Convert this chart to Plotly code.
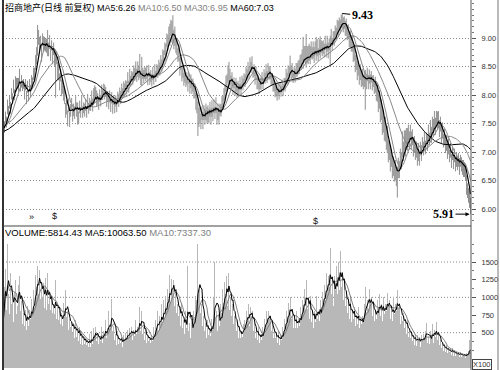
import numpy as np
import pandas as pd
import plotly.graph_objects as go

TITLE_NAME = "招商地产(日线 前复权)"
MA_LABELS = [("MA5", "6.26", "#000000"), ("MA10", "6.50", "#808080"),
             ("MA30", "6.95", "#808080"), ("MA60", "7.03", "#000000")]
VOL_LABELS = [("VOLUME", "5814.43", "#000000"), ("MA5", "10063.50", "#000000"),
              ("MA10", "7337.30", "#808080")]
price_ticks = [6.0, 6.5, 7.0, 7.5, 8.0, 8.5, 9.0]
vol_ticks = [500, 750, 1000, 1250, 1500]
vol_grid = [500, 1000, 1500]
markers = [(28, "»", 217), (51, "$", 216), (311, "$", 221)]

# closes before the first visible day (only used to warm up the moving averages)
pre_close = [7.10, 7.05, 7.12, 7.18, 7.08, 7.02, 7.10, 7.15, 7.22, 7.18,
             7.25, 7.20, 7.14, 7.22, 7.28, 7.30, 7.24, 7.18, 7.26, 7.32,
             7.28, 7.22, 7.30, 7.36, 7.30, 7.26, 7.34, 7.40, 7.36, 7.30,
             7.38, 7.44, 7.40, 7.48, 7.52, 7.46, 7.42, 7.50, 7.56, 7.50,
             7.46, 7.54, 7.58, 7.52, 7.48, 7.55, 7.60, 7.54, 7.50, 7.46,
             7.52, 7.48, 7.44, 7.50, 7.46, 7.42, 7.48, 7.44, 7.40, 7.42]

# daily close, in cents
close_c = [748, 742, 765, 752, 778, 772, 784, 780, 801, 796,
           815, 800, 824, 816, 822, 818, 836, 815, 824, 817,
           820, 804, 818, 798, 812, 800, 818, 806, 826, 820,
           838, 834, 858, 866, 885, 898, 890, 894, 874, 896,
           888, 892, 886, 890, 880, 878, 895, 872, 888, 868,
           882, 866, 860, 868, 846, 844, 824, 838, 816, 818,
           804, 800, 778, 780, 764, 782, 760, 776, 784, 768,
           775, 772, 786, 778, 776, 764, 780, 770, 788, 772,
           778, 774, 786, 770, 790, 776, 784, 782, 798, 780,
           800, 796, 804, 788, 794, 784, 802, 790, 806, 800,
           810, 804, 806, 790, 798, 789, 796, 782, 795, 778,
           792, 780, 790, 784, 798, 790, 804, 796, 810, 804,
           815, 809, 818, 812, 830, 816, 832, 824, 834, 828,
           842, 835, 850, 832, 848, 836, 842, 826, 830, 838,
           832, 840, 834, 842, 826, 844, 828, 834, 824, 838,
           828, 842, 832, 846, 840, 852, 848, 856, 852, 868,
           864, 880, 874, 896, 888, 906, 900, 916, 908, 905,
           896, 900, 886, 888, 872, 876, 854, 858, 840, 842,
           830, 834, 824, 832, 818, 830, 814, 826, 812, 818,
           808, 810, 792, 788, 778, 766, 768, 756, 770, 758,
           772, 762, 776, 768, 774, 766, 776, 768, 780, 770,
           782, 770, 784, 768, 774, 762, 776, 772, 788, 784,
           800, 802, 820, 818, 832, 826, 830, 820, 828, 814,
           822, 810, 820, 806, 814, 808, 820, 810, 826, 818,
           828, 824, 840, 834, 848, 838, 852, 848, 856, 840,
           844, 832, 838, 822, 824, 812, 822, 818, 830, 820,
           834, 830, 842, 832, 846, 838, 842, 828, 830, 816,
           818, 806, 812, 800, 810, 802, 812, 808, 816, 810,
           820, 818, 832, 828, 842, 838, 850, 842, 844, 832,
           838, 834, 846, 842, 848, 846, 858, 854, 866, 860,
           870, 866, 862, 868, 864, 876, 866, 878, 872, 876,
           870, 882, 872, 884, 870, 882, 878, 884, 880, 886,
           878, 890, 880, 892, 876, 888, 892, 902, 890, 900,
           898, 910, 908, 920, 916, 926, 920, 927, 930, 924,
           928, 918, 920, 908, 912, 900, 902, 890, 892, 876,
           876, 860, 862, 848, 850, 836, 840, 830, 834, 824,
           830, 830, 824, 836, 826, 834, 822, 832, 822, 826,
           816, 820, 808, 808, 792, 794, 776, 776, 756, 756,
           740, 742, 726, 724, 704, 706, 690, 692, 676, 678,
           666, 672, 660, 662, 674, 670, 688, 684, 706, 698,
           714, 706, 720, 714, 730, 720, 734, 718, 728, 710,
           716, 700, 708, 692, 702, 690, 706, 698, 716, 706,
           722, 708, 724, 716, 732, 722, 738, 730, 746, 738,
           754, 744, 758, 752, 756, 742, 750, 734, 740, 722,
           728, 712, 720, 704, 710, 694, 704, 688, 698, 684,
           694, 680, 690, 680, 688, 676, 686, 680, 676, 674,
           672, 668, 645, 635, 625, 620, 605]

# upper shadow above close, in cents
up_c = [8, 12, 6, 10, 14, 9, 15, 8, 11, 7,
        12, 10, 9, 14, 8, 12, 10, 7, 11, 9,
        8, 12, 10, 9, 13, 7, 10, 12, 9, 11,
        10, 14, 12, 18, 38, 16, 12, 10, 14, 12,
        15, 10, 12, 9, 34, 14, 10, 12, 8, 14,
        10, 12, 20, 9, 12, 10, 14, 8, 11, 9,
        12, 10, 8, 11, 9, 12, 10, 8, 11, 9,
        10, 8, 12, 9, 11, 7, 10, 9, 12, 8,
        9, 11, 8, 10, 12, 9, 11, 8, 10, 14,
        12, 21, 10, 20, 9, 11, 8, 10, 12, 9,
        10, 14, 8, 11, 9, 10, 12, 8, 10, 9,
        8, 11, 9, 10, 8, 12, 9, 11, 10, 8,
        9, 11, 8, 12, 10, 9, 14, 10, 8, 12,
        10, 12, 9, 14, 11, 16, 30, 12, 37, 10,
        12, 9, 14, 10, 11, 9, 12, 10, 8, 11,
        9, 12, 10, 8, 12, 10, 9, 14, 10, 12,
        14, 12, 16, 12, 18, 14, 25, 16, 22, 35,
        18, 20, 14, 12, 10, 14, 12, 9, 11, 10,
        9, 12, 10, 8, 11, 9, 12, 10, 8, 11,
        9, 10, 12, 14, 10, 12, 9, 11, 10, 12,
        10, 12, 9, 11, 8, 10, 12, 9, 11, 8,
        10, 9, 12, 8, 11, 10, 9, 12, 10, 14,
        12, 16, 14, 18, 20, 32, 16, 14, 12, 10,
        9, 12, 10, 8, 11, 9, 12, 10, 8, 11,
        10, 12, 9, 11, 10, 12, 14, 10, 12, 9,
        10, 8, 12, 9, 11, 10, 9, 12, 10, 8,
        11, 9, 12, 10, 10, 12, 9, 11, 8, 10,
        9, 11, 8, 10, 12, 9, 10, 8, 11, 9,
        10, 12, 14, 11, 10, 12, 19, 10, 12, 9,
        11, 12, 10, 14, 12, 16, 12, 18, 14, 42,
        16, 20, 45, 18, 22, 14, 20, 16, 12, 18,
        14, 12, 30, 14, 12, 16, 25, 12, 14, 10,
        12, 14, 10, 12, 16, 11, 12, 14, 10, 12,
        14, 12, 10, 12, 14, 10, 12, 14, 13, 12,
        10, 12, 14, 10, 12, 9, 11, 10, 12, 14,
        12, 10, 14, 12, 10, 12, 14, 10, 12, 11,
        12, 14, 10, 12, 9, 11, 14, 10, 12, 9,
        10, 12, 14, 12, 16, 14, 18, 16, 20, 18,
        16, 20, 18, 22, 16, 14, 18, 12, 16, 14,
        12, 14, 10, 12, 16, 14, 18, 16, 30, 20,
        24, 32, 22, 28, 18, 16, 14, 18, 12, 16,
        12, 14, 10, 12, 14, 10, 12, 14, 10, 12,
        14, 12, 10, 14, 16, 12, 18, 14, 16, 20,
        18, 16, 14, 19, 16, 14, 12, 14, 12, 10,
        12, 14, 10, 12, 14, 10, 12, 9, 11, 10,
        12, 10, 9, 11, 10, 12, 9, 11, 10, 12,
        10, 12, 14, 10, 12, 14, 15]

# lower shadow below close, in cents
dn_c = [10, 8, 14, 9, 12, 10, 8, 13, 9, 11,
        12, 9, 14, 10, 8, 12, 15, 9, 11, 10,
        9, 12, 10, 14, 8, 11, 10, 9, 12, 10,
        12, 10, 14, 12, 16, 10, 14, 12, 16, 10,
        12, 14, 10, 16, 12, 10, 14, 12, 10, 14,
        12, 16, 65, 14, 20, 18, 16, 14, 18, 16,
        14, 16, 18, 14, 19, 12, 16, 14, 12, 15,
        12, 14, 10, 16, 28, 14, 12, 10, 14, 12,
        10, 12, 14, 10, 12, 9, 11, 10, 12, 9,
        11, 10, 12, 9, 11, 10, 14, 10, 12, 9,
        10, 12, 9, 11, 10, 14, 9, 12, 10, 11,
        9, 12, 10, 14, 9, 11, 10, 12, 9, 11,
        10, 12, 9, 11, 10, 12, 14, 9, 11, 10,
        12, 10, 14, 9, 11, 10, 12, 9, 14, 10,
        11, 12, 10, 14, 9, 12, 10, 11, 9, 12,
        10, 12, 9, 11, 10, 12, 14, 9, 11, 10,
        12, 10, 14, 12, 10, 16, 14, 12, 16, 14,
        16, 14, 12, 18, 14, 16, 20, 14, 16, 12,
        14, 12, 10, 14, 12, 10, 12, 14, 10, 12,
        14, 16, 18, 20, 50, 22, 18, 16, 14, 18,
        16, 14, 20, 18, 22, 16, 14, 20, 18, 16,
        14, 12, 16, 20, 18, 14, 12, 10, 12, 10,
        12, 10, 14, 12, 10, 14, 12, 10, 12, 14,
        10, 12, 14, 10, 12, 9, 11, 10, 12, 10,
        11, 10, 12, 9, 11, 10, 12, 9, 11, 10,
        12, 14, 10, 12, 14, 10, 12, 9, 11, 10,
        12, 10, 9, 11, 10, 12, 14, 10, 12, 10,
        12, 10, 14, 10, 12, 10, 9, 11, 10, 12,
        10, 12, 9, 11, 10, 14, 10, 12, 9, 11,
        10, 12, 14, 10, 12, 9, 11, 10, 12, 14,
        12, 10, 14, 12, 10, 16, 12, 14, 10, 12,
        14, 10, 12, 16, 10, 12, 14, 10, 12, 14,
        12, 10, 14, 16, 12, 10, 39, 14, 12, 10,
        12, 14, 10, 12, 14, 10, 12, 10, 12, 14,
        12, 14, 16, 12, 14, 16, 18, 14, 16, 18,
        16, 20, 18, 22, 16, 18, 14, 16, 18, 14,
        16, 56, 14, 12, 16, 14, 12, 10, 14, 12,
        14, 16, 18, 20, 22, 18, 24, 20, 26, 22,
        20, 24, 22, 26, 22, 20, 24, 18, 22, 20,
        18, 22, 20, 42, 20, 16, 18, 14, 16, 14,
        12, 14, 16, 12, 14, 16, 12, 14, 16, 18,
        16, 14, 18, 16, 18, 14, 12, 14, 10, 12,
        14, 12, 10, 14, 12, 10, 12, 14, 12, 10,
        12, 14, 10, 12, 14, 16, 14, 18, 16, 14,
        16, 14, 18, 16, 14, 12, 14, 16, 12, 14,
        12, 14, 16, 12, 14, 16, 12, 14, 16, 18,
        16, 18, 20, 16, 14, 18, 14]

# daily volume, in hundreds (axis is labelled X100)
volume = [700, 1150, 1400, 820, 1760, 1050, 760, 1350, 900, 1000,
          650, 1080, 1250, 760, 880, 1180, 1300, 800, 950, 620,
          780, 600, 820, 540, 880, 600, 820, 700, 980, 760,
          1100, 900, 1320, 1150, 1450, 1050, 1380, 980, 1200, 1000,
          1200, 850, 1280, 820, 1350, 900, 1000, 820, 980, 780,
          900, 760, 1250, 700, 860, 680, 800, 620, 780, 600,
          920, 800, 1100, 720, 800, 540, 700, 580, 650, 500,
          640, 420, 680, 440, 560, 380, 580, 340, 520, 330,
          440, 340, 420, 320, 400, 300, 480, 300, 520, 340,
          560, 460, 580, 380, 480, 340, 440, 380, 580, 360,
          520, 480, 680, 420, 560, 800, 560, 620, 980, 520,
          600, 400, 480, 320, 520, 340, 420, 360, 440, 300,
          460, 380, 490, 420, 540, 440, 560, 480, 580, 400,
          540, 450, 680, 480, 580, 560, 860, 520, 800, 480,
          580, 390, 540, 360, 460, 380, 440, 350, 460, 380,
          580, 480, 680, 560, 800, 520, 740, 650, 900, 620,
          960, 700, 1020, 840, 1120, 980, 1320, 920, 1260, 1100,
          1250, 880, 1060, 780, 900, 740, 860, 600, 900, 560,
          680, 480, 800, 560, 1450, 520, 640, 430, 700, 560,
          800, 700, 1020, 960, 1750, 1050, 1120, 780, 900, 600,
          740, 520, 640, 430, 680, 470, 560, 450, 700, 600,
          1000, 1500, 700, 800, 520, 740, 600, 900, 780, 1120,
          920, 1220, 1050, 1300, 880, 1350, 820, 1000, 740, 900,
          620, 740, 520, 640, 430, 600, 420, 520, 440, 620,
          680, 560, 800, 660, 900, 600, 860, 740, 800, 520,
          640, 430, 560, 390, 580, 360, 470, 390, 580, 470,
          700, 560, 800, 650, 800, 700, 740, 520, 640, 430,
          520, 430, 490, 350, 520, 330, 460, 390, 580, 480,
          700, 560, 800, 660, 920, 740, 1000, 700, 800, 560,
          700, 560, 800, 560, 690, 600, 860, 700, 960, 840,
          1120, 800, 1250, 840, 960, 700, 1020, 650, 800, 560,
          800, 650, 1020, 700, 800, 660, 960, 800, 1080, 880,
          1180, 960, 1350, 1100, 1300, 1150, 1700, 1050, 1250, 880,
          1300, 1100, 1450, 1050, 1500, 1100, 1650, 1150, 1350, 960,
          1200, 880, 1080, 780, 960, 700, 1020, 650, 800, 700,
          860, 600, 740, 620, 860, 560, 680, 620, 740, 660,
          900, 1150, 780, 960, 840, 1120, 920, 1000, 740, 900,
          660, 800, 700, 960, 780, 1050, 740, 900, 660, 1000,
          760, 900, 800, 1060, 880, 960, 700, 800, 660, 1000,
          760, 900, 800, 1100, 840, 900, 620, 740, 660, 780,
          560, 680, 480, 680, 440, 520, 420, 500, 380, 460,
          330, 480, 310, 460, 380, 440, 300, 460, 380, 480,
          400, 520, 640, 360, 440, 340, 520, 430, 620, 360,
          540, 440, 650, 400, 480, 320, 400, 280, 350, 240,
          340, 220, 320, 210, 280, 220, 260, 190, 290, 170,
          250, 170, 210, 180, 230, 150, 230, 160, 190, 170,
          200, 140, 210, 180, 240, 400, 260]

# ---------------------------------------------------------------- derived
n = min(len(close_c), len(up_c), len(dn_c), len(volume))
close = np.array(close_c[:n], dtype=float) / 100.0
high = close + np.array(up_c[:n], dtype=float) / 100.0
low = close - np.array(dn_c[:n], dtype=float) / 100.0
vol = np.array(volume[:n], dtype=float)
idx = np.arange(n)

npre = len(pre_close)
full = pd.Series(np.concatenate([np.array(pre_close, dtype=float), close]))
ma = {w: full.rolling(w, min_periods=1).mean().values[npre:] for w in (5, 10, 30, 60)}
vser = pd.Series(vol)
vma5 = vser.rolling(5, min_periods=1).mean().values
vma10 = vser.rolling(10, min_periods=1).mean().values

# ---------------------------------------------------------------- geometry
W, H = 500, 370
ML, MR, MT, MB = 3, 29, 0, 2
PW, PH = W - ML - MR, H - MT - MB


def py(pix):
    return (PH - (pix - MT)) / PH


def pxp(pix):
    return (pix - ML) / PW


price_dom = [py(225), 1.0]
vol_dom = [0.0, py(237)]
p_per_px = 3.0 / 171.0
price_range = [6.0 - 16 * p_per_px, 9.0 + 38 * p_per_px]
v_per_px = 1500.0 / 106.0
vol_range = [0.0, (368 - 237) * v_per_px]

# ---------------------------------------------------------------- traces
fig = go.Figure()
cx, cy = [], []
for i in range(n):
    cx += [int(idx[i]), int(idx[i]), None]
    cy += [float(low[i]), float(high[i]), None]
fig.add_trace(go.Scatter(x=cx, y=cy, mode="lines", line=dict(color="#909090", width=1),
                         hoverinfo="skip", showlegend=False))

ma_style = {60: ("#000000", 1.0), 30: ("#888888", 1.0), 10: ("#888888", 1.0), 5: ("#000000", 1.2)}
for w in (60, 30, 10, 5):
    c, lw = ma_style[w]
    fig.add_trace(go.Scatter(x=idx, y=ma[w], mode="lines", line=dict(color=c, width=lw),
                             hoverinfo="skip", showlegend=False))

fig.add_trace(go.Bar(x=idx, y=vol, yaxis="y2", marker=dict(color="#b8b8b8", line=dict(width=0)),
                     hoverinfo="skip", showlegend=False))
fig.add_trace(go.Scatter(x=idx, y=vma10, yaxis="y2", mode="lines",
                         line=dict(color="#808080", width=1), hoverinfo="skip", showlegend=False))
fig.add_trace(go.Scatter(x=idx, y=vma5, yaxis="y2", mode="lines",
                         line=dict(color="#000000", width=1), hoverinfo="skip", showlegend=False))

# ---------------------------------------------------------------- annotations
FONT = "Liberation Sans, Noto Sans CJK SC, sans-serif"
title_txt = f'<span style="color:#000">{TITLE_NAME}</span> ' + " ".join(
    f'<span style="color:{c}">{k}:{v}</span>' for k, v, c in MA_LABELS)
vol_txt = " ".join(f'<span style="color:{c}">{k}:{v}</span>' for k, v, c in VOL_LABELS)

ann = [
    dict(xref="paper", yref="paper", x=0.0, y=1.0, xanchor="left", yanchor="top",
         text=title_txt, showarrow=False, font=dict(family=FONT, size=9, color="#000")),
    dict(xref="paper", yref="paper", x=0.0, y=py(232), xanchor="left", yanchor="middle",
         text=vol_txt, showarrow=False, font=dict(family=FONT, size=9.5, color="#000")),
    dict(xref="paper", yref="paper", x=pxp(482), y=py(364), xanchor="center", yanchor="middle",
         text="X100", showarrow=False, font=dict(family=FONT, size=7.5, color="#333"),
         bordercolor="#444", borderwidth=1, borderpad=0, bgcolor="#fff"),
]
imax = int(np.argmax(high))
ann.append(dict(x=imax, y=float(high[imax]), xref="x", yref="y",
                text=f"<b>{high[imax]:.2f}</b>", showarrow=True, arrowhead=0, arrowwidth=1,
                arrowcolor="#000", ax=20, ay=2,
                font=dict(family="Liberation Serif, serif", size=12, color="#000")))
ilast = n - 1
ann.append(dict(x=ilast, y=float(low[ilast]), xref="x", yref="y",
                text=f"<b>{low[ilast]:.2f}</b>", showarrow=True, arrowhead=2, arrowsize=0.8,
                arrowwidth=1, arrowcolor="#000", ax=-27, ay=0, standoff=1,
                font=dict(family="Liberation Serif, serif", size=12, color="#000")))
for bi, sym, ypix in markers:
    ann.append(dict(x=bi, y=py(ypix), xref="x", yref="paper", text=sym,
                    showarrow=False, font=dict(family=FONT, size=9, color="#111")))

# ---------------------------------------------------------------- shapes
shapes = [
    dict(type="line", xref="paper", yref="paper", x0=0, x1=0, y0=py(370), y1=1.0,
         line=dict(color="#333", width=2)),
    dict(type="line", xref="paper", yref="paper", x0=1, x1=1, y0=py(370), y1=1.0,
         line=dict(color="#555", width=1)),
    dict(type="line", xref="paper", yref="paper", x0=pxp(498), x1=pxp(498), y0=py(370), y1=1.0,
         line=dict(color="#777", width=1)),
    dict(type="line", xref="paper", yref="paper", x0=0, x1=1, y0=py(226), y1=py(226),
         line=dict(color="#444", width=1)),
]
for v in vol_grid:
    shapes.append(dict(type="line", xref="paper", yref="y2", x0=0, x1=1, y0=v, y1=v,
                       line=dict(color="#8a8a8a", width=1, dash="1px,2px"), layer="below"))

fig.update_layout(
    width=W, height=H, margin=dict(l=ML, r=MR, t=MT, b=MB),
    paper_bgcolor="#ffffff", plot_bgcolor="#ffffff", bargap=0, showlegend=False,
    xaxis=dict(range=[-0.5, n - 0.5], visible=False, showgrid=False, zeroline=False),
    yaxis=dict(domain=price_dom, range=price_range, side="right", anchor="x",
               tickvals=price_ticks, ticktext=[f"{t:.2f}" for t in price_ticks],
               ticks="outside", ticklen=4, tickcolor="#555", ticklabelstandoff=4,
               tickfont=dict(family=FONT, size=7.5, color="#333"),
               showgrid=True, gridcolor="#8a8a8a", griddash="1px,2px", gridwidth=1,
               zeroline=False, showline=False,
               minor=dict(dtick=0.1, ticks="outside", ticklen=2, tickcolor="#777", showgrid=False)),
    yaxis2=dict(domain=vol_dom, range=vol_range, side="right", anchor="x",
                tickvals=vol_ticks, ticktext=[str(t) for t in vol_ticks],
                ticks="outside", ticklen=4, tickcolor="#555", ticklabelstandoff=4,
                tickfont=dict(family=FONT, size=7.5, color="#333"),
                showgrid=False, zeroline=False, showline=False,
                minor=dict(dtick=125, ticks="outside", ticklen=2, tickcolor="#777", showgrid=False)),
    annotations=ann, shapes=shapes,
)

fig.write_html("out.html", config={"displayModeBar": False, "staticPlot": True},
               post_script="document.body.style.margin='0px';document.body.style.padding='0px';")
